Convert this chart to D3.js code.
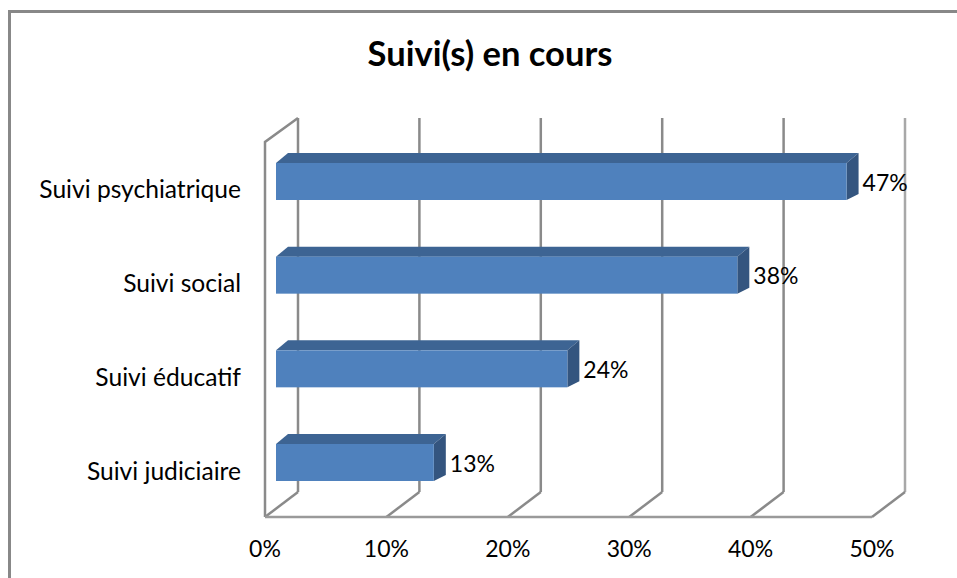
<!DOCTYPE html>
<html lang="fr">
  <head>
    <meta charset="utf-8">
    <title>Suivi(s) en cours</title>
    <style>
      body, html { margin:0; padding:0; background:#fff; }
      svg { display:block; }
      text { font-family: Lato, "Open Sans", sans-serif; fill:#000; }
    </style>
    <script src="https://cdn.jsdelivr.net/npm/d3@7/dist/d3.min.js"></script>
  </head>
  <body>
    <div id="chart"></div>
<script>
// data
var categories = ['Suivi psychiatrique', 'Suivi social', 'Suivi éducatif', 'Suivi judiciaire'];
var values     = [0.47, 0.38, 0.24, 0.13];
var ticks      = [0, 0.1, 0.2, 0.3, 0.4, 0.5];
var title      = 'Suivi(s) en cours';

var W = 957, H = 578;
var svg = d3.select('#chart').append('svg').attr('width', W).attr('height', H);

// outer frame (right / bottom sides fall outside the window)
svg.append('rect')
  .attr('x', 9.5).attr('y', 11.5).attr('width', W + 20).attr('height', H + 20)
  .attr('fill', 'none').attr('stroke', '#888').attr('stroke-width', 3);

svg.append('text')
  .attr('x', 490).attr('y', 66)
  .attr('text-anchor', 'middle')
  .style('font-size', '34.5px').style('font-weight', 'bold')
  .text(title);

// 3d box: front floor edge + depth offset to the back wall
var x = d3.scaleLinear().domain([0, 0.5]).range([265, 872]);
var depth = { dx: 33, dy: -25 };
var floorY = 517, wallTop = 118;

var grid = svg.append('g').attr('stroke', '#8a8a8a').attr('stroke-width', 2.5).attr('fill', 'none');

// left side wall
grid.append('path')
  .attr('d', 'M' + x(0) + ',' + floorY + 'V' + (wallTop + 24) + 'L' + (x(0) + depth.dx) + ',' + wallTop);

// back wall verticals + floor diagonals
ticks.forEach(function(t) {
  grid.append('line')
    .attr('x1', x(t) + depth.dx).attr('y1', floorY + depth.dy)
    .attr('x2', x(t) + depth.dx).attr('y2', wallTop)
    .attr('stroke', t === 0.5 ? '#a8a8a8' : null);
  grid.append('line')
    .attr('x1', x(t)).attr('y1', floorY)
    .attr('x2', x(t) + depth.dx).attr('y2', floorY + depth.dy);
});
// front floor edge
grid.append('line')
  .attr('x1', x(0)).attr('y1', floorY).attr('x2', x(0.5)).attr('y2', floorY)
  .attr('stroke', '#9a9a9a');

// tick labels
svg.append('g').selectAll('text')
  .data(ticks).enter().append('text')
  .attr('x', function(d) { return x(d); })
  .attr('y', 557)
  .attr('text-anchor', 'middle')
  .style('font-size', '23px')
  .text(d3.format('.0%'));

// bars
var y = d3.scaleBand().domain(categories).range([163, 481]).paddingInner(0.605).paddingOuter(0);
var off = 11;          // bars sit a third of the way into the depth
var bd = { dx: 12, dy: -10, dyb: -6 };

var bars = svg.append('g').selectAll('g')
  .data(categories).enter().append('g');

bars.append('polygon')   // top face
  .attr('fill', '#3d6493')
  .attr('points', function(d, i) {
    var x0 = x(0) + off, x1 = x(values[i]) + off, t = y(d);
    return [[x0, t], [x0 + bd.dx, t + bd.dy], [x1 + bd.dx, t + bd.dy], [x1, t]].join(' ');
  });
bars.append('polygon')   // side face
  .attr('fill', '#34557f')
  .attr('points', function(d, i) {
    var x1 = x(values[i]) + off, t = y(d), b = y(d) + y.bandwidth();
    return [[x1, t], [x1 + bd.dx, t + bd.dy], [x1 + bd.dx, b + bd.dyb], [x1, b]].join(' ');
  });
bars.append('rect')      // front face
  .attr('fill', '#4f81bd')
  .attr('x', x(0) + off)
  .attr('y', function(d) { return y(d); })
  .attr('width', function(d, i) { return x(values[i]) - x(0); })
  .attr('height', y.bandwidth());

// value labels
bars.append('text')
  .attr('x', function(d, i) { return x(values[i]) + off + 16; })
  .attr('y', function(d) { return y(d) + 27.5; })
  .style('font-size', '23px')
  .text(function(d, i) { return d3.format('.0%')(values[i]); });

// category labels
bars.append('text')
  .attr('x', 241)
  .attr('y', function(d) { return y(d) + y.bandwidth() / 2 + 17; })
  .attr('text-anchor', 'end')
  .style('font-size', '24.6px')
  .text(function(d) { return d; });
</script>
  </body>
</html>
